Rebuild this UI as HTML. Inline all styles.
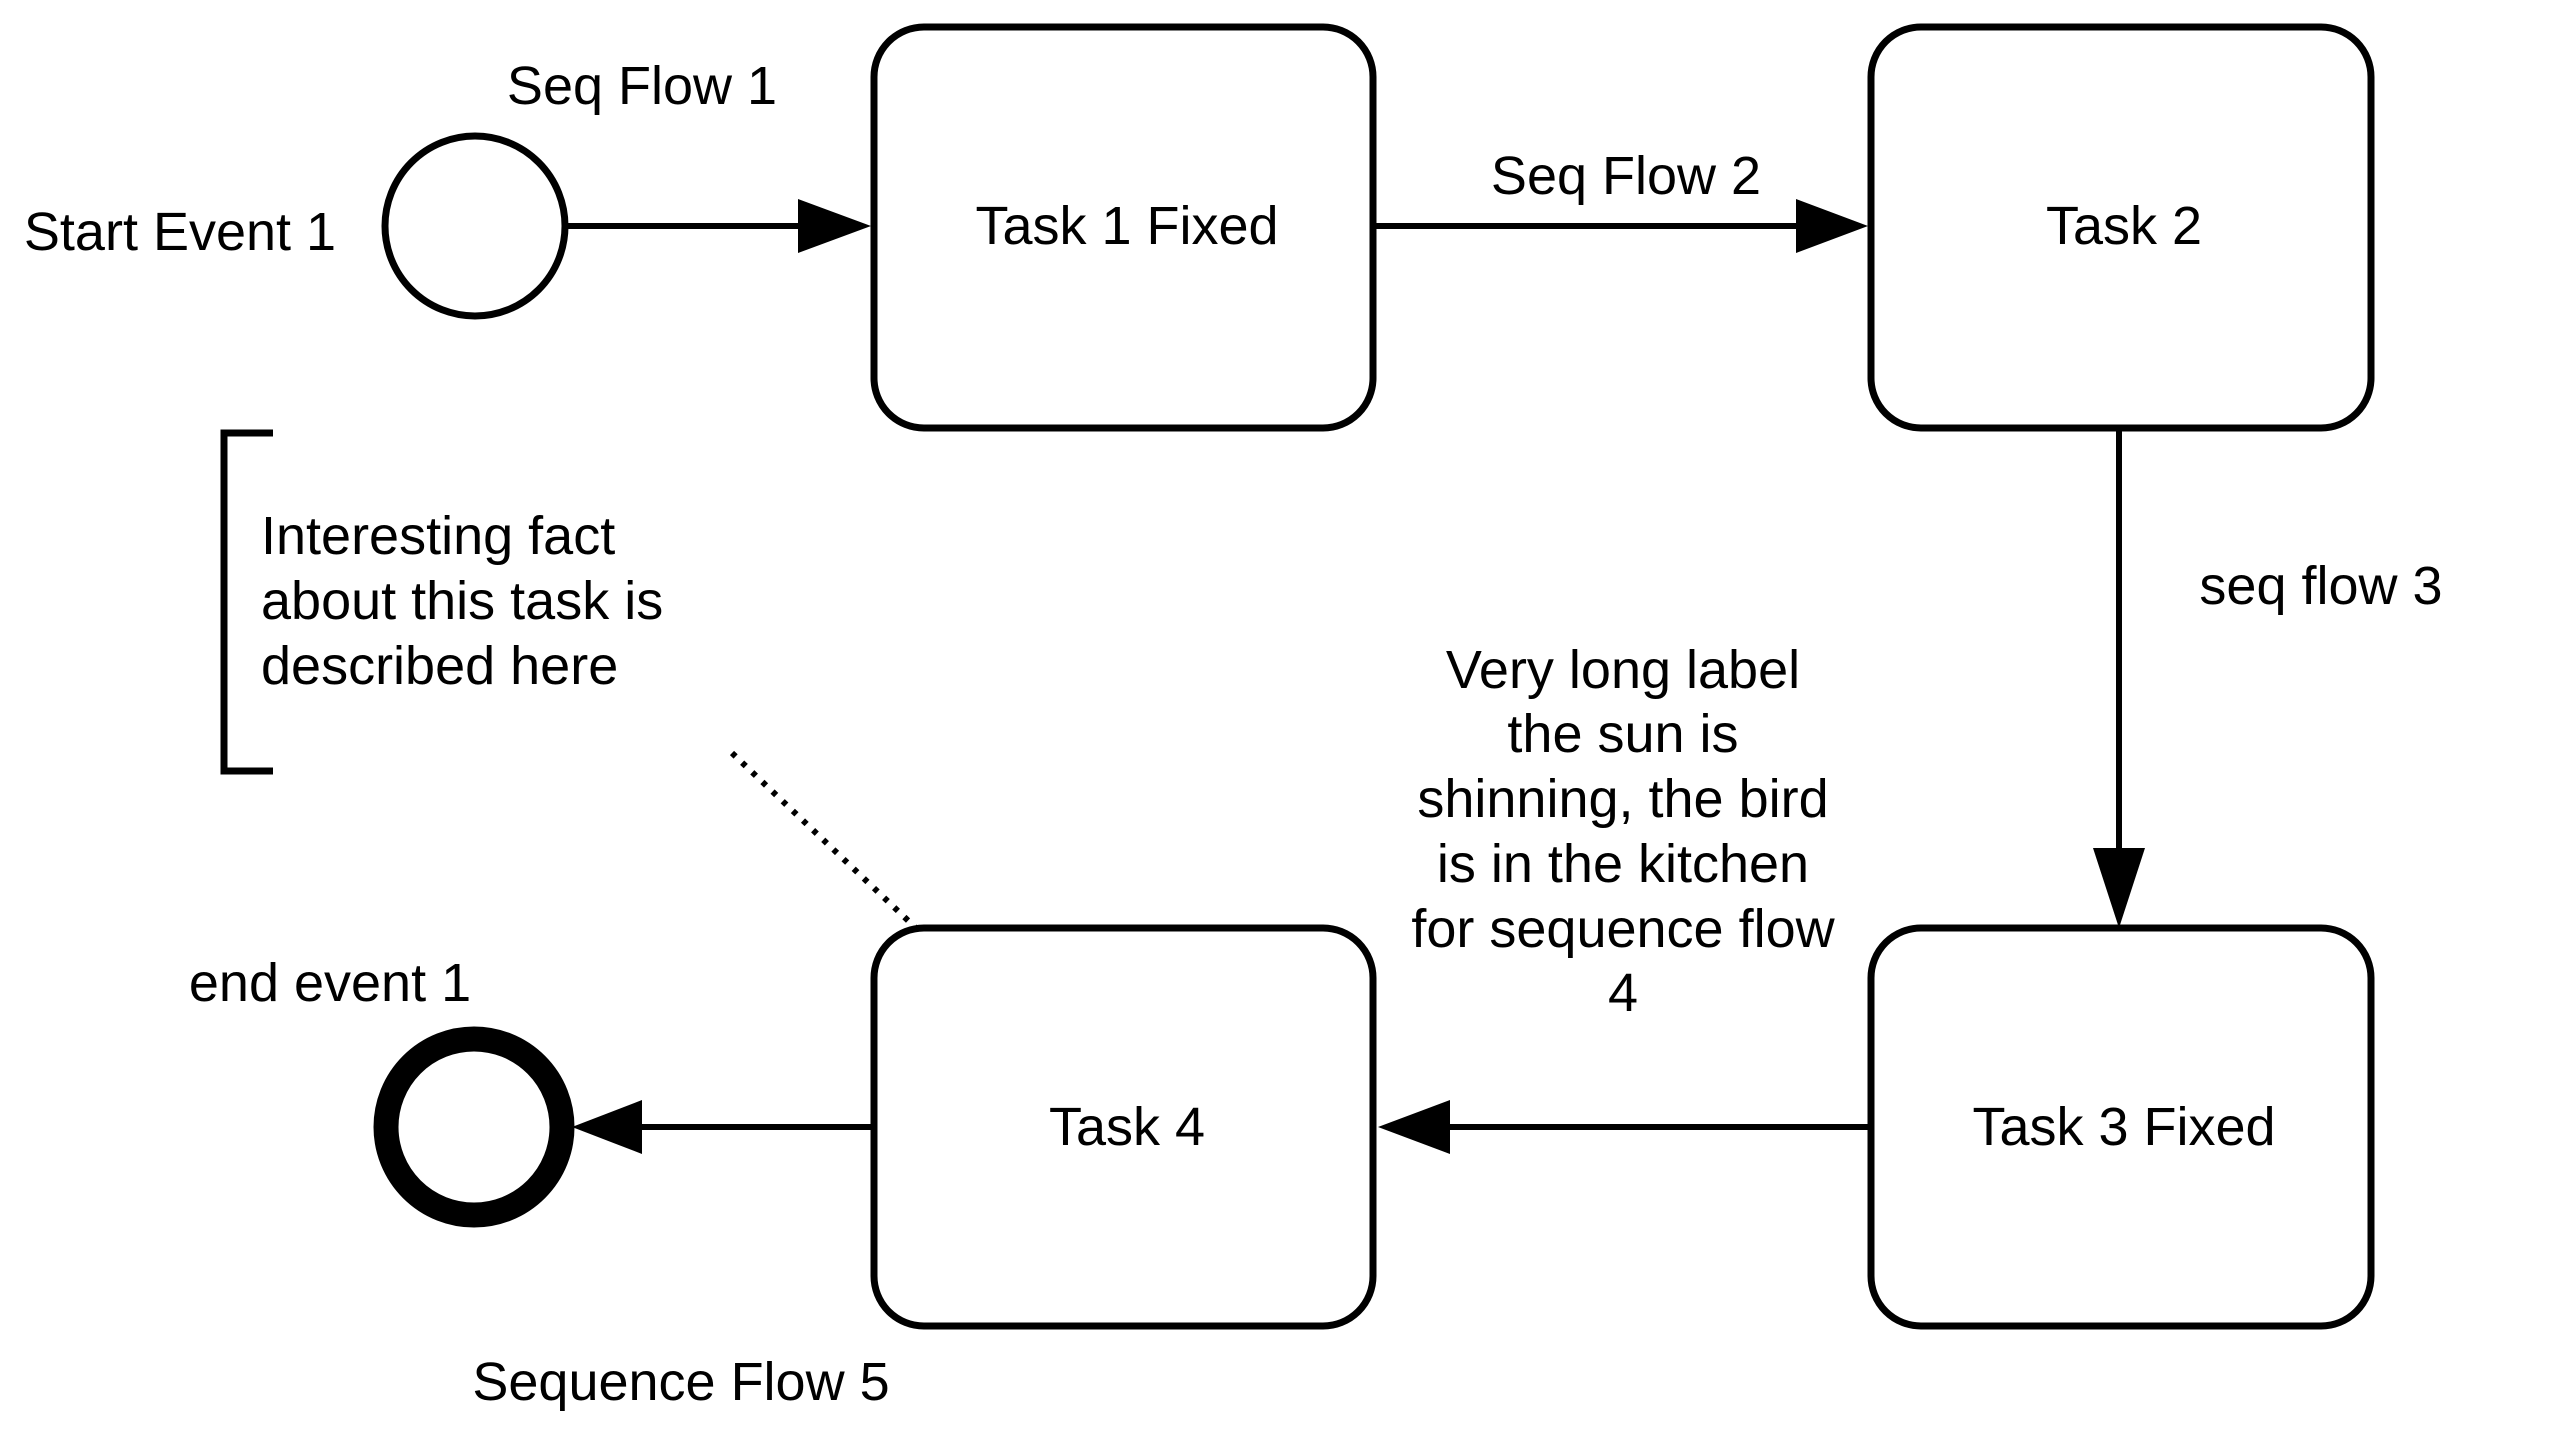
<!DOCTYPE html>
<html><head><meta charset="utf-8"><style>
html,body{margin:0;padding:0;background:#fff;width:2560px;height:1440px;overflow:hidden}
svg{display:block}
text{font-family:"Liberation Sans",Arial,sans-serif;font-size:54px;fill:#000}
</style></head><body>
<svg width="2560" height="1440" viewBox="0 0 2560 1440" xmlns="http://www.w3.org/2000/svg">
<g fill="none" stroke="#000" stroke-width="7">
  <circle cx="475" cy="226" r="90"/>
  <rect x="874" y="27" width="499" height="401" rx="50"/>
  <rect x="1871" y="27" width="500" height="401" rx="50"/>
  <rect x="1871" y="928" width="500" height="398" rx="50"/>
  <rect x="874" y="928" width="499" height="398" rx="50"/>
  <circle cx="474" cy="1127" r="88" stroke-width="25"/>
  <path d="M273 433 H224 V771 H273"/>
</g>
<g stroke="#000" stroke-width="6" fill="none">
  <line x1="568" y1="226" x2="800" y2="226"/>
  <line x1="1376" y1="226" x2="1798" y2="226"/>
  <line x1="2119" y1="431" x2="2119" y2="850"/>
  <line x1="1868" y1="1127" x2="1450" y2="1127"/>
  <line x1="871" y1="1127" x2="640" y2="1127"/>
  <line x1="732" y1="753" x2="918" y2="930" stroke-dasharray="5 9"/>
</g>
<g fill="#000">
  <polygon points="798,199 871,226 798,253"/>
  <polygon points="1796,199 1868,226 1796,253"/>
  <polygon points="2093,848 2145,848 2119,928"/>
  <polygon points="1450,1100 1378,1127 1450,1154"/>
  <polygon points="642,1100 572,1127 642,1154"/>
</g>
<g text-anchor="middle" dominant-baseline="central">
  <text x="642" y="86">Seq Flow 1</text>
  <text x="180" y="232">Start Event 1</text>
  <text x="1127" y="226">Task 1 Fixed</text>
  <text x="1626" y="176">Seq Flow 2</text>
  <text x="2124" y="226">Task 2</text>
  <text x="2321" y="586">seq flow 3</text>
  <text x="1623" y="670">Very long label</text>
  <text x="1623" y="734">the sun is</text>
  <text x="1623" y="799">shinning, the bird</text>
  <text x="1623" y="864">is in the kitchen</text>
  <text x="1623" y="929">for sequence flow</text>
  <text x="1623" y="993">4</text>
  <text x="2124" y="1127">Task 3 Fixed</text>
  <text x="1127" y="1127">Task 4</text>
  <text x="330" y="983">end event 1</text>
  <text x="681" y="1382">Sequence Flow 5</text>
</g>
<g dominant-baseline="central">
  <text x="261" y="536">Interesting fact</text>
  <text x="261" y="601">about this task is</text>
  <text x="261" y="666">described here</text>
</g>
</svg>
</body></html>
